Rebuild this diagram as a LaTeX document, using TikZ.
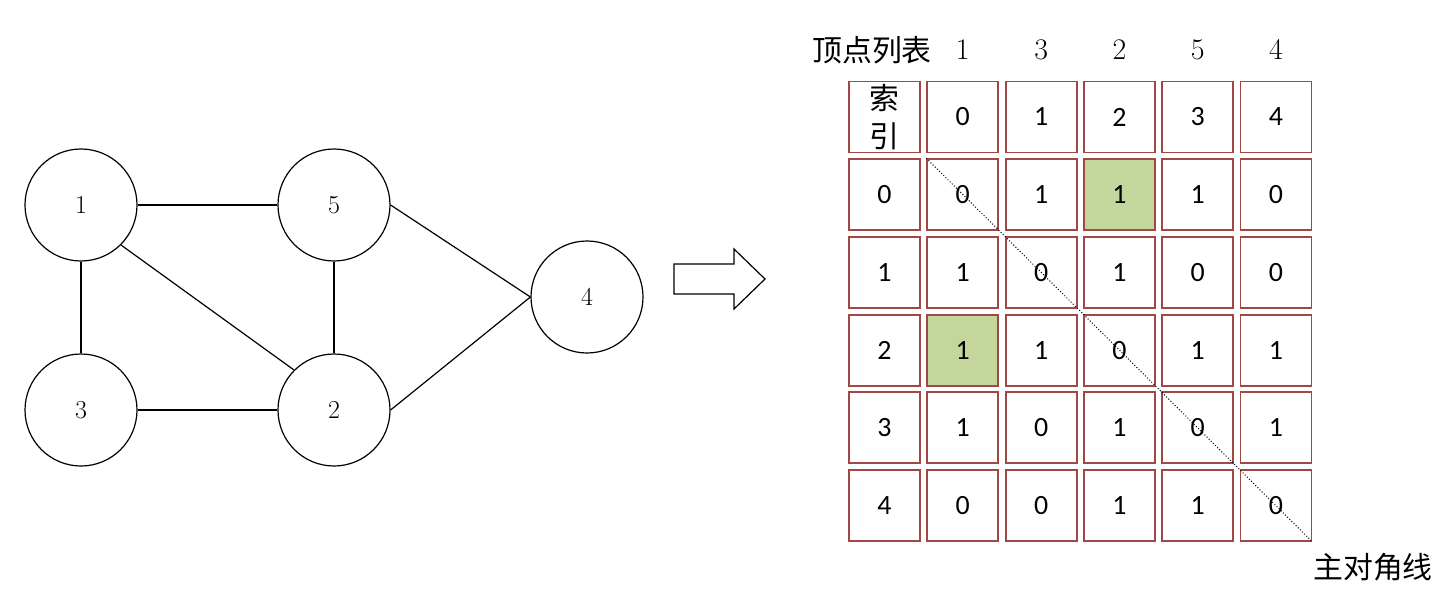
\documentclass[tikz,border=0pt]{standalone}
\usepackage{fontspec}
\setsansfont{Carlito}
\newfontfamily\cjk{Noto Sans CJK SC}
\usetikzlibrary{positioning}
\definecolor{cellred}{RGB}{160,72,70}
\definecolor{cellgreen}{RGB}{195,214,155}

\begin{document}
\begin{tikzpicture}[
  x=1bp, y=-1bp, line width=1.2bp,
  vertex/.style={draw, circle, minimum size=112bp, inner sep=0pt, font=\fontsize{26}{30}\selectfont},
  cell/.style={draw=cellred, line width=1.8bp, minimum size=71bp, inner sep=0pt, align=center, font=\sffamily\fontsize{28}{32}\selectfont},
  head/.style={inner sep=0pt, font=\fontsize{30}{36}\selectfont},
  hl-1-3/.style={fill=cellgreen},
  hl-3-1/.style={fill=cellgreen}
]
\useasboundingbox (0,0) rectangle (1446,606);

% graph
\node[vertex] (n1) at (81,205) {1};
\node[vertex] (n5) at (334,205) {5};
\node[vertex] (n4) at (587,297) {4};
\node[vertex] (n3) at (81,410) {3};
\node[vertex] (n2) at (334,410) {2};
\draw (n1.east) -- (n5.west);
\draw (n1.south) -- (n3.north);
\draw (n1.south east) -- (n2.north west);
\draw (n5.south) -- (n2.north);
\draw (n3.east) -- (n2.west);
\draw (n5.east) -- (n4.west);
\draw (n2.east) -- (n4.west);

% block arrow
\draw (674,264) -- (734,264) -- (734,249) -- (765,279) -- (734,309) -- (734,294) -- (674,294) -- cycle;

% adjacency matrix
\node[cell, font=\cjk\fontsize{30}{38}\selectfont] (c-0-0) at (884.5,117) {索\\引};
\foreach \c in {1,...,5}
  \node[cell] (c-0-\c) at (884.5+78.3*\c,117) {\pgfmathtruncatemacro\k{\c-1}\k};
\foreach \r/\vals in {1/{0,0,1,1,1,0}, 2/{1,1,0,1,0,0}, 3/{2,1,1,0,1,1},
                      4/{3,1,0,1,0,1}, 5/{4,0,0,1,1,0}}
  \foreach \v [count=\c from 0] in \vals
    \node[cell, hl-\r-\c/.try] (c-\r-\c) at (884.5+78.3*\c,117+77.7*\r) {\v};

\draw[dotted, line width=1bp] (c-1-1.north west) -- (c-5-5.south east);

% labels
\node[head] (vlist) at (872,50) {\cjk 顶点列表};
\foreach \v [count=\c] in {1,3,2,5,4}
  \node[head] (h-\c) at (c-0-\c |- vlist) {\v};
\node[head] (diag) at (1373,567) {\cjk 主对角线};
\end{tikzpicture}
\end{document}
